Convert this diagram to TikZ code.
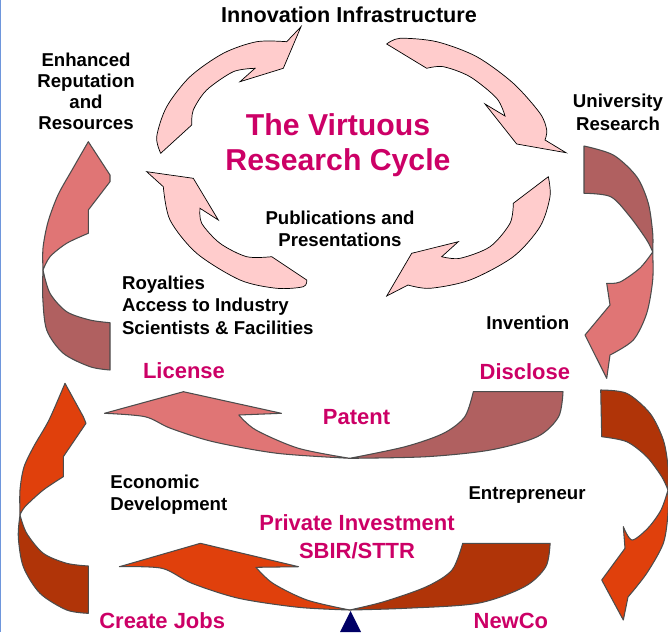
\documentclass[tikz,border=0pt]{standalone}
\usepackage{fontspec}
\setmainfont{Liberation Sans}
\definecolor{hotpink}{RGB}{204,0,102}
\definecolor{blush}{RGB}{255,204,204}
\definecolor{salmon}{RGB}{224,117,117}
\definecolor{brick}{RGB}{176,96,96}
\definecolor{flame}{RGB}{224,64,12}
\definecolor{rust}{RGB}{176,52,8}
\definecolor{deepnavy}{RGB}{0,0,102}
\definecolor{edgeblue}{RGB}{110,150,220}
\tikzset{
  cyc/.style={fill=blush, draw=black, line width=0.4pt},
  band/.style={draw=black!70, line width=0.6pt, line join=round},
  lbl/.style={inner sep=0pt, align=center, font=\fontsize{10.6}{12.8}\selectfont\bfseries},
  hot/.style={inner sep=0pt, align=center, text=hotpink, font=\fontsize{12.5}{15.7}\selectfont\bfseries}
}

\begin{document}
\begin{tikzpicture}[x=0.02cm,y=-0.02cm]
\useasboundingbox (0,0) rectangle (668,632);
\draw[edgeblue, line width=0.8pt] (0.5,0) -- (0.5,632);

% inner cycle
\filldraw[cyc] (160.7,153.3) -- plot[smooth] coordinates {(160.7,153.3) (156.7,136.7) (166.7,106.7) (190,76.7) (223.3,53.3) (256.7,41.7) (286.7,41.7)}
  -- (301,26.7) -- (283.3,68.3) -- (240,81.7) -- (255,68.3)
  -- plot[smooth] coordinates {(255,68.3) (233.3,71.7) (206.7,90) (193.3,110) (191.7,125)} -- cycle;
\filldraw[cyc] (386.7,44) -- plot[smooth] coordinates {(386.7,44) (400,38.3) (436.7,41.7) (476.7,56.7) (513.3,83.3) (540,113.3) (546.7,130) (545,140)}
  -- (566,152.7) -- (516.7,144) -- (485,104) -- (505,116)
  -- plot[smooth] coordinates {(505,116) (496.7,98.3) (470,76.7) (443.3,66.7) (426.7,68.3)} -- cycle;
\filldraw[cyc] (548.3,176.7) -- plot[smooth] coordinates {(548.3,176.7) (550,196.7) (540,226.7) (513.3,256.7) (470,280) (430,288.3) (408,285)}
  -- (386.7,296) -- (411.7,253.3) -- (458.3,241.7) -- (441.7,256.7)
  -- plot[smooth] coordinates {(441.7,256.7) (460,258.3) (490,246.7) (510,223.3) (513.3,203.3)} -- cycle;
\filldraw[cyc] (146.7,171.7) -- (193.3,178.3) -- (218.3,220) -- (200,208.3)
  -- plot[smooth] coordinates {(200,208.3) (201.7,223.3) (220,243.3) (246.7,256.7) (271.7,256.7)}
  -- (306.7,280) -- plot[smooth] coordinates {(306.7,280) (303.3,286.7) (276.7,288.3) (240,280) (196.7,253.3) (170,220) (163.3,186.7)} -- cycle;

% license loop
\filldraw[band, fill=brick] (43,270) -- plot[smooth] coordinates {(43,270) (50,293.3) (66.7,311.7) (90,320) (110,322.7)}
  -- (110,370) -- plot[smooth] coordinates {(110,370) (90,366.7) (63.3,353.3) (46.7,330) (42.7,296.7) (43,270)} -- cycle;
\filldraw[band, fill=salmon] (88.3,141.7) -- (110,175) -- (110,181.7) -- (88.3,210) -- (88.3,233.3)
  -- plot[smooth] coordinates {(88.3,233.3) (66.7,243.3) (50,256.7) (43,270)}
  -- plot[smooth] coordinates {(43,270) (43,248) (48,222) (58,195) (72,170) (88.3,141.7)} -- cycle;
\filldraw[band, fill=brick] (584,146) -- plot[smooth] coordinates {(584,146) (613.3,155) (636.7,176.7) (648.3,203.3) (652.7,233.3) (652.7,252)}
  -- plot[smooth] coordinates {(652.7,252) (646.7,240) (630,216.7) (610.7,196.7) (584,193.3)} -- cycle;
\filldraw[band, fill=salmon] (652.7,252) -- plot[smooth] coordinates {(652.7,252) (652.7,280) (646.7,313.3) (633.3,340) (610,355)}
  -- (606.7,378.3) -- (585,335) -- (610,305) -- (606.7,283.3)
  -- plot[smooth] coordinates {(606.7,283.3) (620,282) (640,268) (652.7,252)} -- cycle;
\filldraw[band, fill=brick] (473.3,391.7) -- (563,391.7)
  -- plot[smooth] coordinates {(563,391.7) (558.6,416.7) (537.3,436.7) (490.4,450) (426.4,456.7) (349.7,458.3)}
  -- plot[smooth] coordinates {(349.7,458.3) (405.1,446.7) (443.5,433.3) (464.8,416.7) (473.3,391.7)} -- cycle;
\filldraw[band, fill=salmon] (104.5,413.3) -- (183.4,391.7) -- (281.4,413.3) -- (238.8,415)
  -- plot[smooth] coordinates {(238.8,415) (255.9,430) (298.5,448.3) (349.7,458.3)}
  -- plot[smooth] coordinates {(349.7,458.3) (277.2,453.3) (213.2,441.7) (170.6,428.3) (145,416.7) (104.5,413.3)} -- cycle;

% newco loop
\filldraw[band, fill=rust] (20,515) -- plot[smooth] coordinates {(20,515) (26.7,533.3) (43.3,553.3) (66.7,563.3) (88.3,566)}
  -- (88.3,613.3) -- plot[smooth] coordinates {(88.3,613.3) (66.7,610) (40,593.3) (23.3,566.7) (18.3,536.7) (20,515)} -- cycle;
\filldraw[band, fill=flame] (65,383.3) -- (83.3,416.7) -- (86,423.3) -- (63.3,456.7) -- (63.3,476.7)
  -- plot[smooth] coordinates {(63.3,476.7) (43.3,490) (25,506.7) (20,515)}
  -- plot[smooth] coordinates {(20,515) (20,490) (24,467) (34,446) (49,420) (65,383.3)} -- cycle;
\filldraw[band, fill=rust] (600.7,390) -- plot[smooth] coordinates {(600.7,390) (626.7,393.3) (650,413.3) (663.3,440) (668,466.7) (668,490)}
  -- plot[smooth] coordinates {(668,490) (661.7,476.7) (646.7,456.7) (626.7,441.7) (601.7,436.7)} -- cycle;
\filldraw[band, fill=flame] (668,490) -- plot[smooth] coordinates {(668,490) (668,513.3) (663.3,543.3) (646.7,573.3) (628,597)}
  -- (623.3,620) -- (601.7,580) -- (625,548.3) -- (623.3,526.7)
  -- plot[smooth] coordinates {(623.3,526.7) (632,540) (648,528) (661,510) (668,490)} -- cycle;
\filldraw[band, fill=rust] (462.7,543.3) -- (550.1,543.3)
  -- plot[smooth] coordinates {(550.1,543.3) (545.8,566.7) (524.5,586.7) (477.6,603.3) (405.1,608.3) (349.7,610)}
  -- plot[smooth] coordinates {(349.7,610) (383.8,601.7) (426.4,586.7) (452,570) (462.7,543.3)} -- cycle;
\filldraw[band, fill=flame] (119.4,566.7) -- (200.4,543.3) -- (298.5,566.7) -- (255.9,567.3)
  -- plot[smooth] coordinates {(255.9,567.3) (272.9,583.3) (307,600) (349.7,610)}
  -- plot[smooth] coordinates {(349.7,610) (298.5,607.3) (238.8,598.3) (191.9,583.3) (162,568.3) (119.4,566.7)} -- cycle;
\fill[deepnavy] (350.5,611) -- (361,632) -- (340,632) -- cycle;

% labels (base = last line)
\node[lbl, anchor=base, font=\fontsize{12.3}{14}\selectfont\bfseries] (infra) at (349,22.5) {Innovation Infrastructure};
\node[lbl, anchor=base, font=\fontsize{10.6}{11.9}\selectfont\bfseries] (repute) at (86,129.3) {Enhanced\\Reputation\\and\\Resources};
\node[lbl, anchor=base] (univ) at (618,130) {University\\Research};
\node[hot, anchor=base, font=\fontsize{17.2}{19.9}\selectfont\bfseries] (virtuous) at (338,170) {The Virtuous\\Research Cycle};
\node[lbl, anchor=base] (pubs) at (340,246.7) {Publications and\\Presentations};
\node[lbl, anchor=base west, align=left] (royal) at (121.7,334) {Royalties\\Access to Industry\\Scientists \& Facilities};
\node[lbl, anchor=base west] (invent) at (486,329) {Invention};
\node[hot, anchor=base west] (license) at (142.7,378.3) {License};
\node[hot, anchor=base west] (disclose) at (479.3,379.3) {Disclose};
\node[hot, anchor=base] (patent) at (356.5,424) {Patent};
\node[lbl, anchor=base west, align=left, font=\fontsize{10.6}{12.4}\selectfont\bfseries] (econ) at (110,510) {Economic\\Development};
\node[lbl, anchor=base west] (entre) at (468.2,499.3) {Entrepreneur};
\node[hot, anchor=base] (invest) at (357,558.3) {Private Investment\\SBIR/STTR};
\node[hot, anchor=base west] (jobs) at (99,628.3) {Create Jobs};
\node[hot, anchor=base west] (newco) at (473.3,628) {NewCo};
\end{tikzpicture}
\end{document}
